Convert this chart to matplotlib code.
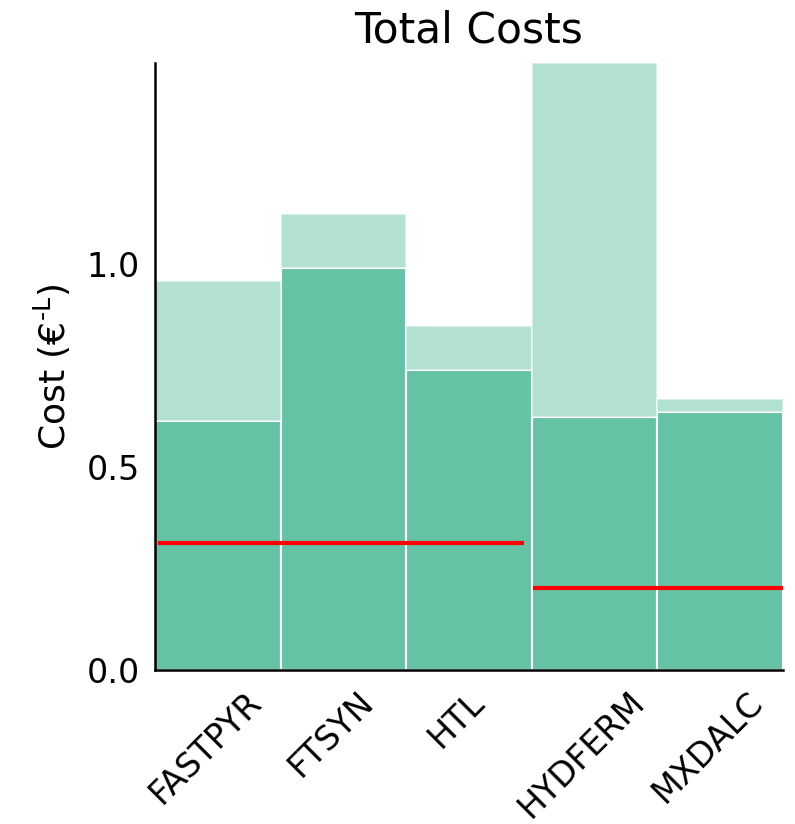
import numpy as np
import matplotlib
matplotlib.use('Agg')
import matplotlib.pyplot as plt

# 데이터
pathways = ['FASTPYR', 'FTSYN', 'HTL', 'HYDFERM', 'MXDALC']
base_cost = [0.613, 0.990, 0.739, 0.623, 0.635]
total_cost = [0.958, 1.123, 0.847, 1.495, 0.667]
ref_price = [0.313, 0.202]  # 빨간선 두개

green = '#66c2a5'

fig = plt.figure(figsize=(7.95, 8.24), dpi=100)
ax = fig.add_axes([0.195, 0.187, 0.79, 0.7365])

x = np.arange(len(pathways))
extra = np.array(total_cost) - np.array(base_cost)

ax.bar(x, base_cost, width=1, color=green, edgecolor='white', linewidth=1.5)
ax.bar(x, extra, bottom=base_cost, width=1, color=green, alpha=0.5,
       edgecolor='white', linewidth=1.5)

# 빨간선
ax.axhline(ref_price[0], xmin=0.008, xmax=0.584, color='red', lw=3)
ax.axhline(ref_price[1], xmin=0.605, xmax=1.0, color='red', lw=3)

ax.set_xlim(-0.5, 4.5)
ax.set_ylim(0, max(total_cost))

# xticks 설정 (라벨이 살짝 왼쪽으로 치우침)
ax.set_xticks(x - 0.1)
ax.set_xticklabels(pathways, rotation=45, fontsize=24)
ax.set_yticks([0.0, 0.5, 1.0])
ax.set_yticklabels(['0.0', '0.5', '1.0'], fontsize=24)
ax.tick_params(axis='both', length=0)
ax.tick_params(axis='y', pad=11)
ax.tick_params(axis='x', pad=11)

for s in ['top', 'right']:
    ax.spines[s].set_visible(False)
for s in ['left', 'bottom']:
    ax.spines[s].set_linewidth(1.8)
    ax.spines[s].set_color('black')

ax.set_ylabel('Cost (€$^{\\text{-L}}$)', fontsize=26, labelpad=10)
ax.set_title('Total Costs', fontsize=30.5, pad=15)

plt.savefig('out.png', dpi=100)
